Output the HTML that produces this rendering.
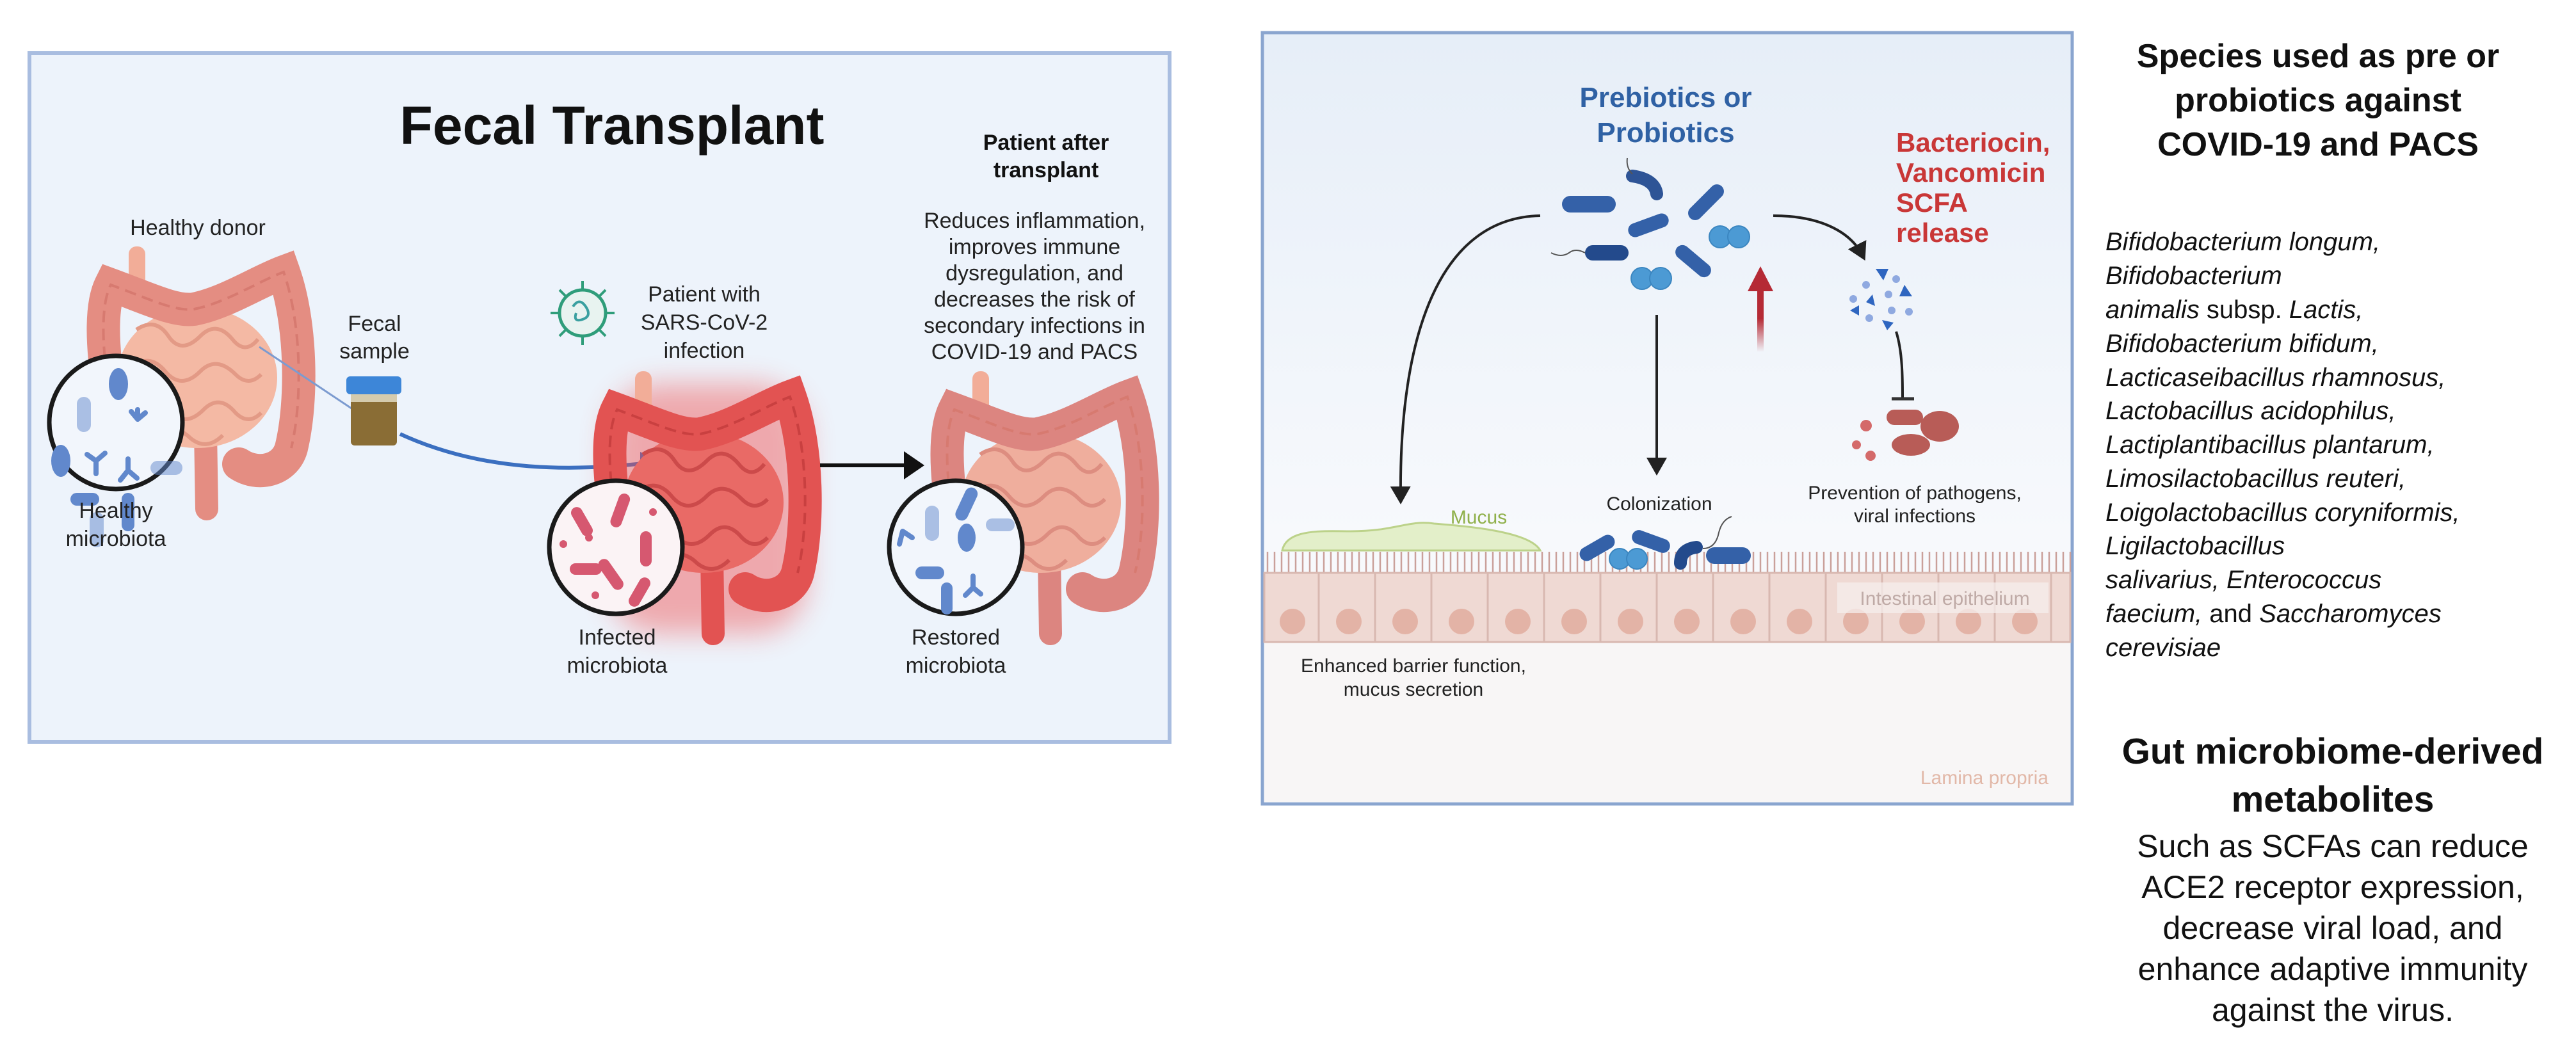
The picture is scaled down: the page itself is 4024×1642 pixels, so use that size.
<!DOCTYPE html>
<html><head><meta charset="utf-8"><style>
html,body{margin:0;padding:0;background:#fff}
svg{display:block}
text{font-family:"Liberation Sans",sans-serif}
</style></head><body>
<svg width="4024" height="1642" viewBox="0 0 4024 1642" xmlns="http://www.w3.org/2000/svg">
<defs>
<linearGradient id="rg" x1="0" y1="0" x2="0" y2="1">
<stop offset="0" stop-color="#e6eef8"/><stop offset="0.65" stop-color="#f7f9fc"/><stop offset="1" stop-color="#fbfbfc"/>
</linearGradient>
<linearGradient id="redar" x1="0" y1="1" x2="0" y2="0">
<stop offset="0" stop-color="#b52a35" stop-opacity="0"/><stop offset="0.5" stop-color="#b52a35"/><stop offset="1" stop-color="#b52a35"/>
</linearGradient>
<filter id="glow" x="-30%" y="-30%" width="160%" height="160%"><feGaussianBlur stdDeviation="22"/></filter>
<marker id="ah" markerWidth="8" markerHeight="8" refX="5" refY="4" orient="auto" markerUnits="strokeWidth"><path d="M0,0 L7,4 L0,8 z" fill="#222"/></marker>
<g id="gut">
<rect x="48" y="-20" width="26" height="70" rx="12" fill="#f2ad98"/>
<path d="M168,270 L170,390" stroke="var(--co,#e48d82)" stroke-width="36" stroke-linecap="round"/>
<ellipse cx="155" cy="185" rx="125" ry="110" fill="var(--si,#f4b9a4)"/>
<path d="M60,110 q30,-20 50,10 q20,30 50,0 q25,-25 50,5 q20,25 40,0 M50,170 q30,-25 55,5 q25,30 55,0 q25,-25 55,5 q20,20 40,0 M55,230 q30,-25 55,5 q25,30 55,0 q25,-25 50,5 q20,20 40,0 M90,275 q30,-20 55,5 q25,20 50,-5" fill="none" stroke="var(--sl,#e39a86)" stroke-width="6"/>
<path d="M18,210 C5,130 5,70 20,40 C80,62 120,82 150,78 C200,68 250,35 290,20 C318,100 320,220 302,295 C292,330 250,340 220,320" fill="none" stroke="var(--co,#e48d82)" stroke-width="52" stroke-linecap="round"/>
<path d="M18,210 C5,130 5,70 20,40 C80,62 120,82 150,78 C200,68 250,35 290,20 C318,100 320,220 302,295" fill="none" stroke="var(--cl,#d77a70)" stroke-width="4" stroke-dasharray="18 10"/>
</g>
</defs>

<!-- LEFT PANEL -->
<rect x="46" y="83" width="1781" height="1076" fill="#edf3fb" stroke="#a9bde0" stroke-width="6"/>
<text x="956" y="225" font-size="84" font-weight="bold" text-anchor="middle" fill="#111">Fecal Transplant</text>
<g font-size="34" font-weight="bold" text-anchor="middle" fill="#111">
<text x="1634" y="234">Patient after</text><text x="1634" y="277">transplant</text></g>
<g font-size="34" text-anchor="middle" fill="#222">
<text x="1616" y="356">Reduces inflammation,</text>
<text x="1616" y="397">improves immune</text>
<text x="1616" y="438">dysregulation, and</text>
<text x="1616" y="479">decreases the risk of</text>
<text x="1616" y="520">secondary infections in</text>
<text x="1616" y="561">COVID-19 and PACS</text></g>

<!-- gut 1 -->
<use href="#gut" x="153" y="405"/>
<text x="309" y="367" font-size="34" text-anchor="middle" fill="#222">Healthy donor</text>
<line x1="405" y1="542" x2="552" y2="640" stroke="#7c9bd0" stroke-width="3"/>
<circle cx="181" cy="660" r="104" fill="#f2f6fc" stroke="#1a1a1a" stroke-width="7"/>
<g fill="#6188cc">
<rect x="120" y="620" width="22" height="55" rx="11" opacity=".5"/><ellipse cx="185" cy="600" rx="15" ry="25"/>
<rect x="110" y="770" width="45" height="20" rx="10"/><rect x="190" y="770" width="20" height="60" rx="10"/>
<ellipse cx="95" cy="720" rx="15" ry="25"/><rect x="235" y="720" width="50" height="22" rx="11" opacity=".5"/>
<rect x="140" y="800" width="22" height="55" rx="11" opacity=".5"/></g>
<g stroke="#6188cc" stroke-width="8" fill="none" stroke-linecap="round">
<path d="M215,640 l0,15 m0,0 l-10,-12 m10,12 l12,-10"/><path d="M150,720 l0,20 m0,-20 l-14,-10 m14,10 l14,-12"/><path d="M200,735 l-12,15 m12,-15 l14,12 m-14,-12 l0,-18"/></g>
<g font-size="34" text-anchor="middle" fill="#222"><text x="181" y="809">Healthy</text><text x="181" y="853">microbiota</text></g>

<!-- fecal sample -->
<g font-size="34" text-anchor="middle" fill="#222"><text x="585" y="517">Fecal</text><text x="585" y="560">sample</text></g>
<rect x="548" y="608" width="72" height="88" rx="6" fill="#8a6d35"/>
<rect x="548" y="608" width="72" height="20" fill="#e7e2cc" opacity=".8"/>
<rect x="541" y="588" width="86" height="28" rx="6" fill="#3d86d8"/>
<path d="M625,678 C760,740 900,735 1005,724" fill="none" stroke="#3b6fc0" stroke-width="6"/>
<path d="M1000,706 L1036,724 L1000,742 z" fill="#3b6fc0"/>

<!-- virus -->
<g transform="translate(910,489)">
<circle r="36" fill="#e8f3f0" stroke="#2f9d7a" stroke-width="5"/>
<g stroke="#2f9d7a" stroke-width="4">
<line x1="0" y1="-36" x2="0" y2="-50"/><line x1="0" y1="36" x2="0" y2="50"/><line x1="-36" y1="0" x2="-50" y2="0"/><line x1="36" y1="0" x2="50" y2="0"/>
<line x1="25" y1="25" x2="36" y2="36"/><line x1="-25" y1="25" x2="-36" y2="36"/><line x1="25" y1="-25" x2="36" y2="-36"/><line x1="-25" y1="-25" x2="-36" y2="-36"/></g>
<path d="M-15,-10 q10,-15 20,0 q10,15 -5,20 q-15,5 -10,-10" fill="none" stroke="#3aa0a0" stroke-width="4"/></g>
<g font-size="34" text-anchor="middle" fill="#222"><text x="1100" y="471">Patient with</text><text x="1100" y="515">SARS-CoV-2</text><text x="1100" y="559">infection</text></g>

<!-- gut 2 red -->
<rect x="950" y="600" width="310" height="390" rx="80" fill="#f05050" opacity=".45" filter="url(#glow)"/>
<use href="#gut" x="944" y="600" style="--si:#e96a66;--sl:#cc4a4a;--co:#e25352;--cl:#c94040"/>
<circle cx="962" cy="855" r="104" fill="#fbf3f5" stroke="#1a1a1a" stroke-width="7"/>
<g fill="#d65870">
<rect x="900" y="790" width="18" height="50" rx="9" transform="rotate(-30 909 815)"/><rect x="960" y="770" width="18" height="55" rx="9" transform="rotate(20 969 797)"/>
<rect x="1000" y="830" width="18" height="55" rx="9"/><rect x="890" y="880" width="50" height="18" rx="9"/>
<rect x="945" y="870" width="18" height="55" rx="9" transform="rotate(-35 954 897)"/><rect x="990" y="900" width="18" height="50" rx="9" transform="rotate(30 999 925)"/>
<circle cx="920" cy="840" r="6"/><circle cx="1020" cy="800" r="6"/><circle cx="930" cy="930" r="6"/><circle cx="880" cy="850" r="6"/></g>
<g font-size="34" text-anchor="middle" fill="#222"><text x="964" y="1007">Infected</text><text x="964" y="1051">microbiota</text></g>

<line x1="1281" y1="727" x2="1420" y2="727" stroke="#111" stroke-width="6"/>
<path d="M1412,705 L1444,727 L1412,749 z" fill="#111"/>

<!-- gut 3 -->
<use href="#gut" x="1471" y="600" style="--si:#efae9d;--sl:#dd8d80;--co:#dc8580"/>
<circle cx="1493" cy="855" r="104" fill="#f2f6fc" stroke="#1a1a1a" stroke-width="7"/>
<g fill="#6188cc">
<rect x="1445" y="790" width="22" height="55" rx="11" opacity=".5"/><rect x="1500" y="760" width="20" height="55" rx="10" transform="rotate(25 1510 787)"/>
<ellipse cx="1510" cy="840" rx="14" ry="22"/><rect x="1430" y="885" width="45" height="20" rx="10"/>
<rect x="1540" y="810" width="45" height="20" rx="10" opacity=".5"/><rect x="1470" y="910" width="18" height="50" rx="9"/></g>
<g stroke="#6188cc" stroke-width="8" fill="none" stroke-linecap="round"><path d="M1520,900 l0,18 m0,0 l-12,12 m12,-12 l12,10"/><path d="M1410,830 l15,10 m-15,-10 l-5,20"/></g>
<g font-size="34" text-anchor="middle" fill="#222"><text x="1493" y="1007">Restored</text><text x="1493" y="1051">microbiota</text></g>

<!-- RIGHT PANEL -->
<rect x="1972" y="51" width="1265" height="1205" fill="url(#rg)" stroke="#8aa5cf" stroke-width="5"/>
<rect x="1975" y="1003" width="1259" height="250" fill="#f8f6f6"/>
<g font-size="44" font-weight="bold" text-anchor="middle" fill="#2f61a4"><text x="2602" y="167">Prebiotics or</text><text x="2602" y="222">Probiotics</text></g>
<g font-size="42" font-weight="bold" fill="#c93737"><text x="2962" y="237">Bacteriocin,</text><text x="2962" y="284">Vancomicin</text><text x="2962" y="331">SCFA</text><text x="2962" y="378">release</text></g>

<g fill="#3461a8">
<rect x="2440" y="306" width="84" height="26" rx="13"/>
<path d="M2550,275 q35,5 38,28" fill="none" stroke="#2e5496" stroke-width="20" stroke-linecap="round"/>
<rect x="2630" y="305" width="70" height="22" rx="11" transform="rotate(-45 2665 316)"/>
<rect x="2542" y="341" width="66" height="22" rx="11" transform="rotate(-20 2575 352)"/>
<rect x="2476" y="383" width="68" height="24" rx="12" fill="#234a8c"/>
<rect x="2612" y="397" width="66" height="22" rx="11" transform="rotate(40 2645 408)"/>
</g>
<path d="M2476,395 q-15,-8 -25,0 q-12,8 -28,0" fill="none" stroke="#555" stroke-width="2"/>
<path d="M2550,272 q-10,-10 -8,-25" fill="none" stroke="#555" stroke-width="2"/>
<g fill="#4c9ad4" stroke="#3b86c0" stroke-width="2"><circle cx="2687" cy="370" r="17"/><circle cx="2716" cy="370" r="17"/><circle cx="2565" cy="435" r="17"/><circle cx="2594" cy="435" r="17"/></g>

<path d="M2406,337 C2250,340 2185,520 2188,780" fill="none" stroke="#222" stroke-width="4" marker-end="url(#ah)"/>
<line x1="2588" y1="492" x2="2588" y2="735" stroke="#222" stroke-width="4" marker-end="url(#ah)"/>
<path d="M2770,337 C2840,337 2890,360 2910,400" fill="none" stroke="#222" stroke-width="4" marker-end="url(#ah)"/>
<rect x="2745" y="445" width="10" height="105" fill="url(#redar)"/>
<path d="M2730,455 L2750,416 L2770,455 z" fill="#b52a35"/>

<g fill="#2f66c0"><path d="M2930,420 l20,0 l-8,18z"/><path d="M2975,445 l12,18 l-20,0z"/><path d="M2925,460 l-10,12 l14,6z"/><path d="M2890,485 l14,-8 l0,16z"/><path d="M2940,500 l18,4 l-10,12z"/></g>
<g fill="#8fa9e0"><circle cx="2962" cy="436" r="6"/><circle cx="2915" cy="445" r="6"/><circle cx="2950" cy="460" r="6"/><circle cx="2895" cy="467" r="6"/><circle cx="2955" cy="485" r="6"/><circle cx="2982" cy="487" r="6"/><circle cx="2920" cy="497" r="6"/></g>
<path d="M2962,518 C2972,550 2972,590 2972,622" fill="none" stroke="#222" stroke-width="4"/>
<line x1="2955" y1="623" x2="2990" y2="623" stroke="#333" stroke-width="5"/>
<g fill="#b85c57"><rect x="2947" y="640" width="57" height="24" rx="12"/><ellipse cx="3030" cy="666" rx="30" ry="24"/><ellipse cx="2985" cy="695" rx="30" ry="17"/></g>
<g fill="#d46a6a"><circle cx="2915" cy="665" r="9"/><circle cx="2900" cy="695" r="7"/><circle cx="2922" cy="712" r="8"/></g>
<g font-size="30" text-anchor="middle" fill="#222"><text x="2991" y="780">Prevention of pathogens,</text><text x="2991" y="816">viral infections</text><text x="2592" y="797">Colonization</text></g>

<path d="M2003,860 C2010,825 2070,830 2110,830 C2180,830 2200,812 2240,818 C2290,822 2390,830 2406,860 z" fill="#e3efc9" stroke="#bcd28a" stroke-width="3"/>
<text x="2310" y="818" font-size="30" fill="#8fb04a" text-anchor="middle">Mucus</text>
<g stroke="#caa09a" stroke-width="2.5">
<path d="M1980,898 V862 M1991,898 V862 M2002,898 V862 M2013,898 V862 M2024,898 V862 M2035,898 V862 M2046,898 V862 M2057,898 V862 M2068,898 V862 M2079,898 V862 M2090,898 V862 M2101,898 V862 M2112,898 V862 M2123,898 V862 M2134,898 V862 M2145,898 V862 M2156,898 V862 M2167,898 V862 M2178,898 V862 M2189,898 V862 M2200,898 V862 M2211,898 V862 M2222,898 V862 M2233,898 V862 M2244,898 V862 M2255,898 V862 M2266,898 V862 M2277,898 V862 M2288,898 V862 M2299,898 V862 M2310,898 V862 M2321,898 V862 M2332,898 V862 M2343,898 V862 M2354,898 V862 M2365,898 V862 M2376,898 V862 M2387,898 V862 M2398,898 V862 M2409,898 V862 M2420,898 V862 M2431,898 V862 M2442,898 V862 M2453,898 V862 M2464,898 V862 M2475,898 V862 M2486,898 V862 M2497,898 V862 M2508,898 V862 M2519,898 V862 M2530,898 V862 M2541,898 V862 M2552,898 V862 M2563,898 V862 M2574,898 V862 M2585,898 V862 M2596,898 V862 M2607,898 V862 M2618,898 V862 M2629,898 V862 M2640,898 V862 M2651,898 V862 M2662,898 V862 M2673,898 V862 M2684,898 V862 M2695,898 V862 M2706,898 V862 M2717,898 V862 M2728,898 V862 M2739,898 V862 M2750,898 V862 M2761,898 V862 M2772,898 V862 M2783,898 V862 M2794,898 V862 M2805,898 V862 M2816,898 V862 M2827,898 V862 M2838,898 V862 M2849,898 V862 M2860,898 V862 M2871,898 V862 M2882,898 V862 M2893,898 V862 M2904,898 V862 M2915,898 V862 M2926,898 V862 M2937,898 V862 M2948,898 V862 M2959,898 V862 M2970,898 V862 M2981,898 V862 M2992,898 V862 M3003,898 V862 M3014,898 V862 M3025,898 V862 M3036,898 V862 M3047,898 V862 M3058,898 V862 M3069,898 V862 M3080,898 V862 M3091,898 V862 M3102,898 V862 M3113,898 V862 M3124,898 V862 M3135,898 V862 M3146,898 V862 M3157,898 V862 M3168,898 V862 M3179,898 V862 M3190,898 V862 M3201,898 V862 M3212,898 V862 M3223,898 V862 M3234,898 V862"/></g>
<rect x="1975" y="895" width="1259" height="108" fill="#efd9d3" stroke="#d8b8b0" stroke-width="3"/>
<g stroke="#d8b8b0" stroke-width="3"><path d="M2060,895V1003M2148,895V1003M2236,895V1003M2324,895V1003M2412,895V1003M2500,895V1003M2588,895V1003M2676,895V1003M2764,895V1003M2852,895V1003M2940,895V1003M3028,895V1003M3116,895V1003M3204,895V1003"/></g>
<g fill="#e3b3a6"><circle cx="2019" cy="971" r="20"/><circle cx="2107" cy="971" r="20"/><circle cx="2195" cy="971" r="20"/><circle cx="2283" cy="971" r="20"/><circle cx="2371" cy="971" r="20"/><circle cx="2459" cy="971" r="20"/><circle cx="2547" cy="971" r="20"/><circle cx="2635" cy="971" r="20"/><circle cx="2723" cy="971" r="20"/><circle cx="2811" cy="971" r="20"/><circle cx="2899" cy="971" r="20"/><circle cx="2987" cy="971" r="20"/><circle cx="3075" cy="971" r="20"/><circle cx="3163" cy="971" r="20"/></g>
<rect x="2870" y="910" width="330" height="48" fill="#f6eeec" opacity=".75"/>
<text x="3038" y="945" font-size="30" fill="#bfaaa6" text-anchor="middle">Intestinal epithelium</text>
<g fill="#3461a8">
<rect x="2465" y="845" width="60" height="22" rx="11" transform="rotate(-30 2495 856)"/>
<rect x="2548" y="835" width="62" height="22" rx="11" transform="rotate(20 2579 846)"/>
<path d="M2625,880 q0,-22 25,-25" fill="none" stroke="#234a8c" stroke-width="20" stroke-linecap="round"/>
<rect x="2665" y="855" width="70" height="26" rx="13"/></g>
<g fill="#4c9ad4" stroke="#3b86c0" stroke-width="2"><circle cx="2530" cy="873" r="16"/><circle cx="2557" cy="873" r="16"/></g>
<path d="M2660,857 q20,0 25,-25 q5,-20 20,-25" fill="none" stroke="#555" stroke-width="2"/>
<g font-size="30" text-anchor="middle" fill="#222"><text x="2208" y="1050">Enhanced barrier function,</text><text x="2208" y="1087">mucus secretion</text></g>
<text x="3200" y="1225" font-size="30" fill="#e2b8a8" text-anchor="end">Lamina propria</text>

<g font-size="52" font-weight="bold" text-anchor="middle" fill="#111">
<text x="3621" y="105">Species used as pre or</text><text x="3621" y="174">probiotics against</text><text x="3621" y="243">COVID-19 and PACS</text></g>
<g font-size="40" fill="#111" font-style="italic">
<text x="3289" y="391">Bifidobacterium longum,</text>
<text x="3289" y="444">Bifidobacterium</text>
<text x="3289" y="497">animalis<tspan font-style="normal"> subsp. </tspan>Lactis,</text>
<text x="3289" y="550">Bifidobacterium bifidum,</text>
<text x="3289" y="603">Lacticaseibacillus rhamnosus,</text>
<text x="3289" y="655">Lactobacillus acidophilus,</text>
<text x="3289" y="708">Lactiplantibacillus plantarum,</text>
<text x="3289" y="761">Limosilactobacillus reuteri,</text>
<text x="3289" y="814">Loigolactobacillus coryniformis,</text>
<text x="3289" y="866">Ligilactobacillus</text>
<text x="3289" y="919">salivarius, Enterococcus</text>
<text x="3289" y="972">faecium,<tspan font-style="normal"> and </tspan>Saccharomyces</text>
<text x="3289" y="1025">cerevisiae</text></g>
<g font-size="57" font-weight="bold" text-anchor="middle" fill="#111"><text x="3644" y="1193">Gut microbiome-derived</text><text x="3644" y="1268">metabolites</text></g>
<g font-size="50" text-anchor="middle" fill="#111">
<text x="3644" y="1339">Such as SCFAs can reduce</text>
<text x="3644" y="1403">ACE2 receptor expression,</text>
<text x="3644" y="1467">decrease viral load, and</text>
<text x="3644" y="1531">enhance adaptive immunity</text>
<text x="3644" y="1595">against the virus.</text></g>
</svg>
</body></html>
